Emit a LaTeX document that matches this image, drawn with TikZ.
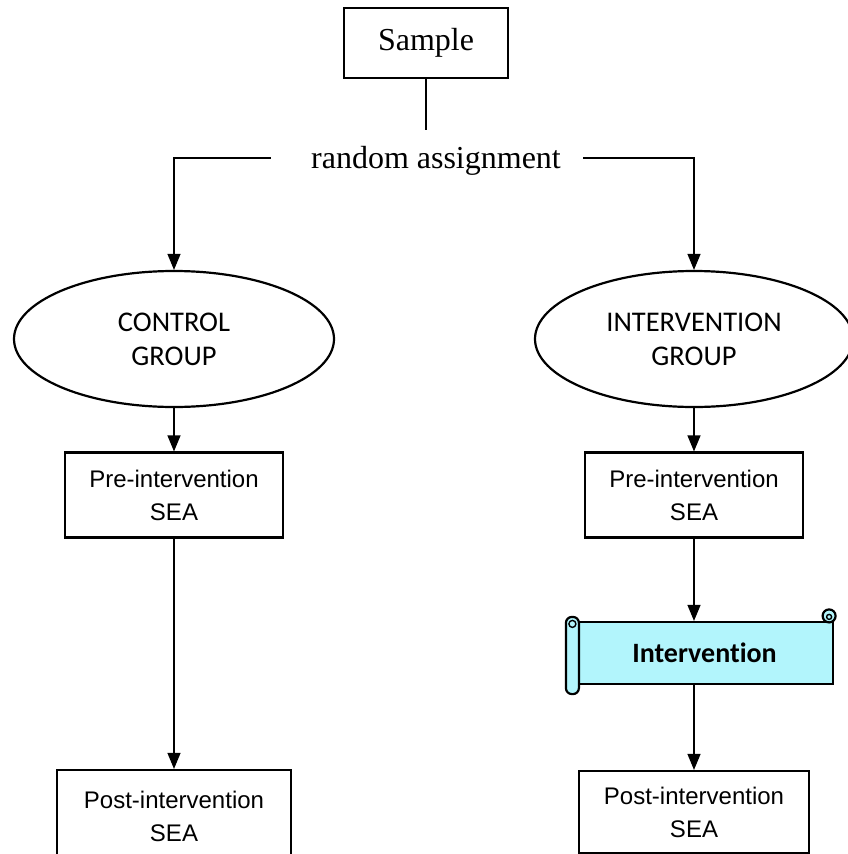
\documentclass[tikz,border=0pt]{standalone}
\usepackage{fontspec}
\setmainfont{Liberation Serif}
\newfontfamily\boxfont{Liberation Sans}
\newfontfamily\ovalfont[Ligatures=NoCommon]{Carlito}
\usetikzlibrary{arrows.meta,shapes.geometric}
\definecolor{scrollcyan}{RGB}{178,245,252}

\begin{document}
\begin{tikzpicture}[x=1pt,y=-1pt,
  arr/.style={line width=1.2pt,-{Triangle[length=16pt,width=13pt]}},
  plain/.style={line width=1.2pt},
  sea/.style={draw,line width=2.2pt,minimum width=218pt,minimum height=85pt,inner sep=0pt,align=center,font=\boxfont\fontsize{24}{33}\selectfont},
  group/.style={draw,ellipse,line width=2.2pt,minimum width=320pt,minimum height=136pt,inner sep=0pt,align=center,font=\ovalfont\fontsize{28.5}{34}\selectfont}]
  \useasboundingbox (0,0) rectangle (848,854);

  % Sample and assignment
  \node[draw,line width=2.2pt,minimum width=164pt,minimum height=70pt,font=\fontsize{32}{38}\selectfont] (sample) at (426,43) {Sample};
  \node[font=\fontsize{32}{38}\selectfont,inner xsep=0pt,inner ysep=16.5pt] (assign) at (436,161) {random assignment};

  % Groups
  \node[group] (ctrl) at (174,339) {CONTROL\\GROUP};
  \node[group,minimum width=318pt] (intgrp) at (694,339) {INTERVENTION\\GROUP};

  % Control arm
  \node[sea] (lpre) at (174,495) {Pre-intervention\\SEA};
  \node[sea,minimum width=234pt,minimum height=92pt] (lpost) at (174,816) {Post-intervention\\SEA};

  % Intervention arm
  \node[fill=scrollcyan,draw,line width=2.2pt,minimum width=257pt,minimum height=62pt,inner sep=0pt,font=\ovalfont\bfseries\fontsize{28}{34}\selectfont] (interv) at (704.5,653) {Intervention};
  \filldraw[fill=scrollcyan,line width=2.2pt] ([xshift=-5pt,yshift=5pt]interv.north east) circle (6.5pt);
  \draw[line width=1.4pt] ([xshift=-5pt,yshift=4pt]interv.north east) circle (2.5pt);
  \filldraw[fill=scrollcyan,line width=2.2pt,rounded corners=6pt] ([xshift=-9pt,yshift=4pt]interv.north west) rectangle ([xshift=4pt,yshift=-9pt]interv.south west);
  \draw[line width=1.4pt] ([xshift=-2.5pt,yshift=-3pt]interv.north west) circle (3.5pt);
  \node[sea] (rpre) at (694,495) {Pre-intervention\\SEA};
  \node[sea,minimum width=230pt,minimum height=82pt] (rpost) at (694,812) {Post-intervention\\SEA};

  % Connectors
  \draw[plain] (sample.south) -- (sample.south |- assign.north);
  \draw[arr] ([xshift=-40pt,yshift=3pt]assign.west) -| (ctrl.north);
  \draw[arr] ([xshift=22pt,yshift=3pt]assign.east) -| (intgrp.north);
  \draw[arr] (ctrl.south) -- (lpre.north);
  \draw[arr] (lpre.south) -- (lpost.north);
  \draw[arr] (intgrp.south) -- (rpre.north);
  \draw[arr] (rpre.south) -- (rpre.south |- interv.north);
  \draw[arr] (rpost.north |- interv.south) -- (rpost.north);
\end{tikzpicture}
\end{document}
